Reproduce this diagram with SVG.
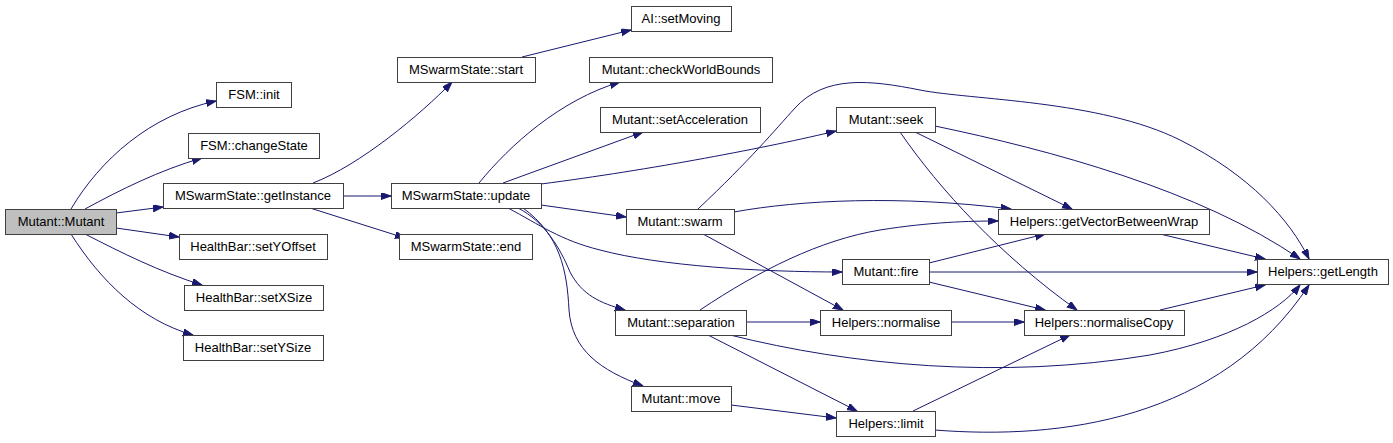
<svg xmlns="http://www.w3.org/2000/svg" width="1393" height="443" viewBox="0 0 1393 443">
<style>
.n rect{fill:#ffffff;stroke:#404040;stroke-width:1}
.n.root rect{fill:#bfbfbf}
.n text{font-family:"Liberation Sans",Arial,sans-serif;font-size:13px;fill:#000;text-anchor:middle}
.e path{fill:none;stroke:#191970;stroke-width:1;marker-end:url(#ah)}
</style>
<defs>
<marker id="ah" markerUnits="userSpaceOnUse" markerWidth="11" markerHeight="8" refX="10" refY="3.5" orient="auto">
<path d="M0,0 L10,3.5 L0,7 z" fill="#191970" stroke="#191970" stroke-width="1"/>
</marker>
</defs>
<rect width="1393" height="443" fill="#ffffff"/>
<g id="edges" class="e">
<path d="M71,209 C100,160 150,115 216,101"/>
<path d="M85,209 C120,190 160,170 202,158"/>
<path d="M116,213 L163,207"/>
<path d="M116,228 L179,237"/>
<path d="M85,234 C120,252 160,272 202,285"/>
<path d="M71,234 C100,280 140,320 193,335"/>
<path d="M313,183 C360,165 420,115 452,82"/>
<path d="M343,196 L391,196"/>
<path d="M310,208 L405,238"/>
<path d="M522,57 L631,30"/>
<path d="M479,183 C510,145 560,100 620,82"/>
<path d="M503,183 L643,132"/>
<path d="M541,184 C650,170 770,147 836,131"/>
<path d="M541,205 L626,217"/>
<path d="M508,208 C540,225 560,240 600,250 C660,266 760,272 842,272"/>
<path d="M518,208 C545,222 560,248 570,272 C582,295 600,303 625,310"/>
<path d="M523,208 C560,235 567,270 569,310 C572,350 600,370 643,386"/>
<path d="M698,209 C750,160 775,130 795,108 C825,75 870,80 920,90 C970,100 1100,100 1180,140 C1250,175 1290,220 1309,259"/>
<path d="M935,126 C1050,150 1200,190 1300,259"/>
<path d="M915,132 L1072,209"/>
<path d="M900,132 C940,190 1000,255 1077,310"/>
<path d="M734,212 C800,200 900,195 1011,209"/>
<path d="M700,310 C760,270 820,240 880,230 C930,222 970,221 998,221"/>
<path d="M929,263 L1045,234"/>
<path d="M929,272 L1257,272"/>
<path d="M929,282 L1045,310"/>
<path d="M703,234 L843,310"/>
<path d="M746,322 L820,322"/>
<path d="M951,322 L1024,322"/>
<path d="M1160,310 L1265,285"/>
<path d="M1160,234 L1265,259"/>
<path d="M730,335 C850,365 1000,380 1150,355 C1230,340 1280,310 1300,285"/>
<path d="M708,335 L857,411"/>
<path d="M731,405 L836,418"/>
<path d="M913,411 L1070,335"/>
<path d="M935,430 C1060,440 1220,420 1309,285"/>
</g>
<g id="n_mutant" class="n root"><rect x="5.5" y="209.5" width="111" height="25"/><text x="61" y="226">Mutant::Mutant</text></g>
<g id="n_fsm_init" class="n"><rect x="216.5" y="82.5" width="75" height="25"/><text x="254" y="99">FSM::init</text></g>
<g id="n_fsm_changestate" class="n"><rect x="188.5" y="133.5" width="131" height="25"/><text x="254" y="150">FSM::changeState</text></g>
<g id="n_getinstance" class="n"><rect x="163.5" y="183.5" width="180" height="25"/><text x="253" y="200">MSwarmState::getInstance</text></g>
<g id="n_setyoffset" class="n"><rect x="179.5" y="234.5" width="148" height="25"/><text x="253" y="251">HealthBar::setYOffset</text></g>
<g id="n_setxsize" class="n"><rect x="184.5" y="285.5" width="139" height="25"/><text x="254" y="302">HealthBar::setXSize</text></g>
<g id="n_setysize" class="n"><rect x="183.5" y="335.5" width="140" height="25"/><text x="253" y="352">HealthBar::setYSize</text></g>
<g id="n_setmoving" class="n"><rect x="631.5" y="6.5" width="100" height="25"/><text x="681" y="23">AI::setMoving</text></g>
<g id="n_start" class="n"><rect x="397.5" y="57.5" width="138" height="25"/><text x="466" y="74">MSwarmState::start</text></g>
<g id="n_checkworldbounds" class="n"><rect x="589.5" y="57.5" width="183" height="25"/><text x="681" y="74">Mutant::checkWorldBounds</text></g>
<g id="n_setacceleration" class="n"><rect x="600.5" y="107.5" width="160" height="25"/><text x="680" y="124">Mutant::setAcceleration</text></g>
<g id="n_update" class="n"><rect x="391.5" y="183.5" width="150" height="25"/><text x="466" y="200">MSwarmState::update</text></g>
<g id="n_swarm" class="n"><rect x="626.5" y="209.5" width="108" height="25"/><text x="680" y="226">Mutant::swarm</text></g>
<g id="n_end" class="n"><rect x="399.5" y="234.5" width="133" height="25"/><text x="466" y="251">MSwarmState::end</text></g>
<g id="n_seek" class="n"><rect x="836.5" y="107.5" width="99" height="25"/><text x="886" y="124">Mutant::seek</text></g>
<g id="n_fire" class="n"><rect x="842.5" y="259.5" width="87" height="25"/><text x="886" y="276">Mutant::fire</text></g>
<g id="n_separation" class="n"><rect x="615.5" y="310.5" width="131" height="25"/><text x="681" y="327">Mutant::separation</text></g>
<g id="n_normalise" class="n"><rect x="820.5" y="310.5" width="131" height="25"/><text x="886" y="327">Helpers::normalise</text></g>
<g id="n_move" class="n"><rect x="631.5" y="386.5" width="100" height="25"/><text x="681" y="403">Mutant::move</text></g>
<g id="n_limit" class="n"><rect x="836.5" y="411.5" width="99" height="25"/><text x="886" y="428">Helpers::limit</text></g>
<g id="n_getvectorbetweenwrap" class="n"><rect x="998.5" y="209.5" width="211" height="25"/><text x="1104" y="226">Helpers::getVectorBetweenWrap</text></g>
<g id="n_getlength" class="n"><rect x="1257.5" y="259.5" width="131" height="25"/><text x="1323" y="276">Helpers::getLength</text></g>
<g id="n_normalisecopy" class="n"><rect x="1024.5" y="310.5" width="160" height="25"/><text x="1104" y="327">Helpers::normaliseCopy</text></g>
</svg>
